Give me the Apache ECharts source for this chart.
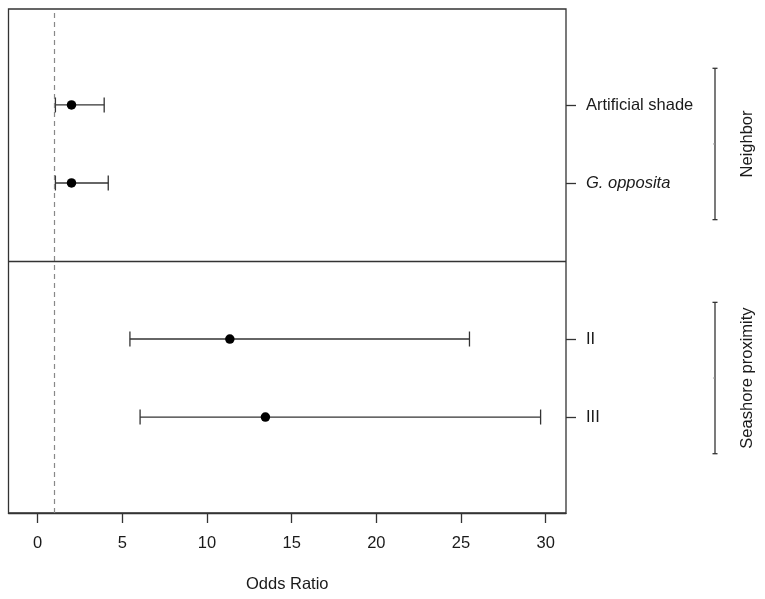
<!DOCTYPE html>
<html>
<head>
<meta charset="utf-8">
<script src="https://cdn.jsdelivr.net/npm/echarts@6/dist/echarts.min.js"></script>
<style>
  html, body { margin: 0; padding: 0; background: #fff; }
  #chart { width: 765px; height: 599px; }
</style>
</head>
<body>
<div id="chart"></div>
<script>
// rows from top to bottom; larger position = higher on the plot
const rowLabels = ["Artificial shade", "G. opposita", "II", "III"];
const rowItalic = [false, true, false, false];
const rowPos = [5, 4, 2, 1];
const oddsRatio = [2.0, 2.0, 11.35, 13.45];
const ciLow = [1.05, 1.05, 5.45, 6.05];
const ciHigh = [3.93, 4.17, 25.5, 29.7];
const xTicks = [0, 5, 10, 15, 20, 25, 30];
const groupNames = ["Neighbor", "Seashore proximity"];
const groupFrom = [4, 1];
const groupTo = [5, 2];
const refLine = 1;      // odds ratio = 1
const dividerPos = 3;   // line between the two groups

const FONT = '"Liberation Sans", Arial, sans-serif';
const FS = 16.5;
const INK = "#1a1a1a";
const LINE = "#333";

const chart = echarts.init(document.getElementById("chart"), null, { renderer: "canvas" });

chart.setOption({
  animation: false,
  grid: {
    left: 8.5, right: 199, top: 9, bottom: 86,
    show: true, borderColor: LINE, borderWidth: 1.3,
    containLabel: false,
  },
  xAxis: {
    type: "value",
    min: -1.72,
    max: 31.2,
    name: "Odds Ratio",
    nameLocation: "middle",
    nameGap: 63,
    nameTextStyle: { fontFamily: FONT, fontSize: FS, color: INK },
    axisLine: { show: true, onZero: false, lineStyle: { color: LINE, width: 1.3 } },
    axisTick: { show: true, length: 10, customValues: xTicks, lineStyle: { color: LINE, width: 1.3 } },
    axisLabel: { customValues: xTicks, margin: 22, fontFamily: FONT, fontSize: FS, color: INK },
    splitLine: { show: false },
  },
  yAxis: {
    type: "value",
    position: "right",
    min: -0.23,
    max: 6.23,
    axisLine: { show: false, onZero: false },
    axisTick: { show: true, length: 10, customValues: rowPos, lineStyle: { color: LINE, width: 1.3 } },
    axisLabel: {
      customValues: rowPos,
      margin: 20,
      fontFamily: FONT,
      fontSize: FS,
      color: INK,
      formatter: (v) => {
        const i = rowPos.indexOf(Math.round(v));
        if (i < 0) return "";
        return rowItalic[i] ? "{it|" + rowLabels[i] + "}" : rowLabels[i];
      },
      rich: {
        it: { fontFamily: FONT, fontSize: FS, fontStyle: "italic", color: INK },
      },
    },
    splitLine: { show: false },
  },
  series: [
    {
      // confidence intervals
      type: "custom",
      data: rowPos.map((p, i) => [ciLow[i], ciHigh[i], p]),
      encode: { x: [0, 1], y: 2 },
      renderItem(params, api) {
        const a = api.coord([api.value(0), api.value(2)]);
        const b = api.coord([api.value(1), api.value(2)]);
        const h = 7.5;
        const st = { stroke: LINE, lineWidth: 1.3 };
        return {
          type: "group",
          children: [
            { type: "line", shape: { x1: a[0], y1: a[1], x2: b[0], y2: b[1] }, style: st },
            { type: "line", shape: { x1: a[0], y1: a[1] - h, x2: a[0], y2: a[1] + h }, style: st },
            { type: "line", shape: { x1: b[0], y1: b[1] - h, x2: b[0], y2: b[1] + h }, style: st },
          ],
        };
      },
      z: 3,
    },
    {
      // point estimates
      type: "scatter",
      data: rowPos.map((p, i) => [oddsRatio[i], p]),
      symbol: "circle",
      symbolSize: 9.5,
      itemStyle: { color: "#000", opacity: 1 },
      z: 4,
      markLine: {
        silent: true,
        symbol: "none",
        label: { show: false },
        data: [
          { xAxis: refLine, lineStyle: { type: [5, 4], color: "#888", width: 1.2 } },
          { yAxis: dividerPos, lineStyle: { type: "solid", color: LINE, width: 1.3 } },
        ],
      },
    },
    {
      // group brackets on the right margin
      type: "custom",
      clip: false,
      data: groupNames.map((n, i) => [0, groupFrom[i] - 0.47, groupTo[i] + 0.47, i]),
      encode: { x: 0, y: [1, 2] },
      renderItem(params, api) {
        const cs = params.coordSys;
        const x = cs.x + cs.width + 149;
        const lo = api.coord([0, api.value(1)])[1];
        const hi = api.coord([0, api.value(2)])[1];
        const mid = (lo + hi) / 2;
        const st = { stroke: LINE, lineWidth: 1.3 };
        return {
          type: "group",
          children: [
            { type: "line", shape: { x1: x, y1: hi, x2: x, y2: lo }, style: st },
            { type: "line", shape: { x1: x - 2.5, y1: hi, x2: x + 2.5, y2: hi }, style: st },
            { type: "line", shape: { x1: x - 2.5, y1: lo, x2: x + 2.5, y2: lo }, style: st },
            { type: "line", shape: { x1: x - 2, y1: mid, x2: x, y2: mid }, style: { stroke: "#999", lineWidth: 1 } },
            {
              type: "text",
              x: x + 32,
              y: mid,
              rotation: Math.PI / 2,
              style: {
                text: groupNames[api.value(3)],
                x: 0, y: 0,
                align: "center",
                verticalAlign: "middle",
                font: FS + "px " + FONT,
                fill: INK,
              },
            },
          ],
        };
      },
    },
  ],
});
</script>
</body>
</html>
